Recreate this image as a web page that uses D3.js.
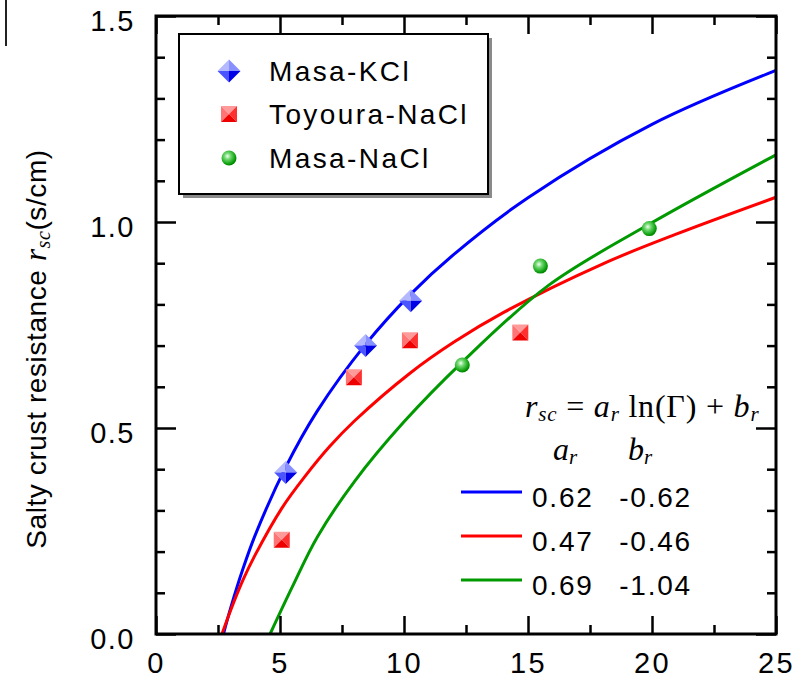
<!DOCTYPE html>
<html>
<head>
<meta charset="utf-8">
<script src="https://cdn.jsdelivr.net/npm/d3@7"></script>
<style>
  body { margin: 0; background: #fff; }
  svg { display: block; font-family: "Liberation Sans", Arial, sans-serif; }
  .tick text { font-size: 29px; fill: #000; letter-spacing: 2.5px; }
</style>
</head>
<body>
<svg id="chart" width="808" height="684"></svg>
<script>
// measured points (Gamma, r_sc)
var kclX = [5.23, 8.45, 10.27];
var kclY = [0.392, 0.700, 0.809];
var toyoX = [5.07, 7.98, 10.24, 14.69];
var toyoY = [0.229, 0.623, 0.713, 0.732];
var nacX = [12.35, 15.5, 19.89];
var nacY = [0.653, 0.893, 0.984];

// fitted curves
var kclFitX = [2.72, 3, 3.5, 4, 5.23, 6.5, 8.45, 10.27, 12, 15, 20, 25];
var kclFitY = [0, 0.061, 0.157, 0.240, 0.405, 0.541, 0.703, 0.825, 0.921, 1.059, 1.237, 1.368];
var toyoFitX = [2.66, 3, 3.5, 4, 5.07, 6, 7, 8, 10.24, 12, 14, 18, 21, 25];
var toyoFitY = [0, 0.056, 0.130, 0.192, 0.305, 0.382, 0.455, 0.517, 0.633, 0.708, 0.780, 0.898, 0.971, 1.060];
var nacFitX = [4.6, 5.5, 6.5, 8, 10, 12.35, 15.8, 19.9, 25];
var nacFitY = [0, 0.115, 0.235, 0.370, 0.515, 0.660, 0.845, 0.995, 1.163];

var seriesNames = ["Masa-KCl", "Toyoura-NaCl", "Masa-NaCl"];
var fitALabels = ["0.62", "0.47", "0.69"];
var fitBLabels = ["-0.62", "-0.46", "-1.04"];
var colors = ["#0000ff", "#ff0000", "#009900"];

var xMajor = [0, 5, 10, 15, 20, 25];
var xMinor = [2.5, 7.5, 12.5, 17.5, 22.5];
var yMajor = [0, 0.5, 1.0, 1.5];
var yMinor = [0.1, 0.2, 0.3, 0.4, 0.6, 0.7, 0.8, 0.9, 1.1, 1.2, 1.3, 1.4];

var pL = 156, pR = 776, pT = 16, pB = 634;

var svg = d3.select("#chart");

var x = d3.scaleLinear().domain([0, 25]).range([pL, pR]);
var y = d3.scaleLinear().domain([0, 1.5]).range([pB, pT]);

// artifact line at top-left corner
svg.append("line")
  .attr("x1", 6).attr("x2", 6).attr("y1", 0).attr("y2", 46)
  .attr("stroke", "#222").attr("stroke-width", 2);

// fitted curves
var line = d3.line()
  .x(function(d) { return x(d[0]); })
  .y(function(d) { return y(d[1]); })
  .curve(d3.curveCatmullRom.alpha(0.5));

var fits = [[kclFitX, kclFitY], [toyoFitX, toyoFitY], [nacFitX, nacFitY]];
fits.forEach(function(f, i) {
  var pts = f[0].map(function(v, j) { return [v, f[1][j]]; });
  svg.append("path")
    .attr("d", line(pts))
    .attr("fill", "none")
    .attr("stroke", colors[i])
    .attr("stroke-width", 3);
});

// axes
function styleAxis(g) {
  g.select(".domain").remove();
  g.selectAll(".tick line").attr("stroke", "#000").attr("stroke-width", 2.5);
}

svg.append("g")
  .attr("transform", "translate(0," + pB + ")")
  .call(d3.axisBottom(x).tickValues(xMajor).tickSizeInner(-18).tickSizeOuter(0)
    .tickPadding(18).tickFormat(d3.format("d")))
  .call(styleAxis);
svg.append("g")
  .attr("transform", "translate(0," + pB + ")")
  .call(d3.axisBottom(x).tickValues(xMinor).tickSizeInner(-9).tickSizeOuter(0).tickFormat(""))
  .call(styleAxis);
svg.append("g")
  .attr("transform", "translate(0," + pT + ")")
  .call(d3.axisTop(x).tickValues(xMajor).tickSizeInner(-18).tickSizeOuter(0).tickFormat(""))
  .call(styleAxis);
svg.append("g")
  .attr("transform", "translate(0," + pT + ")")
  .call(d3.axisTop(x).tickValues(xMinor).tickSizeInner(-9).tickSizeOuter(0).tickFormat(""))
  .call(styleAxis);

var yl = svg.append("g")
  .attr("transform", "translate(" + pL + ",0)")
  .call(d3.axisLeft(y).tickValues(yMajor).tickSizeInner(-20).tickSizeOuter(0)
    .tickPadding(21).tickFormat(d3.format(".1f")))
  .call(styleAxis);
yl.selectAll(".tick text").attr("dy", "0.5em").style("letter-spacing", "1.5px");
svg.append("g")
  .attr("transform", "translate(" + pL + ",0)")
  .call(d3.axisLeft(y).tickValues(yMinor).tickSizeInner(-9).tickSizeOuter(0).tickFormat(""))
  .call(styleAxis);
svg.append("g")
  .attr("transform", "translate(" + pR + ",0)")
  .call(d3.axisRight(y).tickValues(yMajor).tickSizeInner(-20).tickSizeOuter(0).tickFormat(""))
  .call(styleAxis);
svg.append("g")
  .attr("transform", "translate(" + pR + ",0)")
  .call(d3.axisRight(y).tickValues(yMinor).tickSizeInner(-9).tickSizeOuter(0).tickFormat(""))
  .call(styleAxis);

// frame
svg.append("rect")
  .attr("x", pL).attr("y", pT)
  .attr("width", pR - pL).attr("height", pB - pT)
  .attr("fill", "none").attr("stroke", "#000").attr("stroke-width", 3);

// markers
var defs = svg.append("defs");
var rg = defs.append("radialGradient").attr("id", "ball")
  .attr("cx", "0.4").attr("cy", "0.38").attr("r", "0.6");
rg.append("stop").attr("offset", "0").attr("stop-color", "#f0fff0");
rg.append("stop").attr("offset", "0.35").attr("stop-color", "#70d870");
rg.append("stop").attr("offset", "0.8").attr("stop-color", "#18a818");
rg.append("stop").attr("offset", "1").attr("stop-color", "#008800");

function diamond(g, cx, cy) {
  var s = 11.5;
  var faces = [
    [[0, 0], [-s, 0], [0, -s], "#b4b8ff"],
    [[0, 0], [0, -s], [s, 0], "#8890ff"],
    [[0, 0], [-s, 0], [0, s], "#4a55ff"],
    [[0, 0], [0, s], [s, 0], "#0000e6"]
  ];
  faces.forEach(function(f) {
    g.append("path")
      .attr("d", "M" + (cx + f[0][0]) + "," + (cy + f[0][1]) + "L" + (cx + f[1][0]) + "," + (cy + f[1][1]) +
        "L" + (cx + f[2][0]) + "," + (cy + f[2][1]) + "Z")
      .attr("fill", f[3]);
  });
}
function square(g, cx, cy) {
  var s = 8;
  var faces = [
    [[-s, -s], [s, -s], "#ff9a9a"],
    [[-s, -s], [-s, s], "#ff7575"],
    [[s, -s], [s, s], "#ff3030"],
    [[-s, s], [s, s], "#ee0000"]
  ];
  faces.forEach(function(f) {
    g.append("path")
      .attr("d", "M" + cx + "," + cy + "L" + (cx + f[0][0]) + "," + (cy + f[0][1]) +
        "L" + (cx + f[1][0]) + "," + (cy + f[1][1]) + "Z")
      .attr("fill", f[2]);
  });
}
function ball(g, cx, cy) {
  g.append("circle").attr("cx", cx).attr("cy", cy).attr("r", 7.5)
    .attr("fill", "url(#ball)");
}

var markG = svg.append("g");
kclX.forEach(function(v, i) { diamond(markG, x(v), y(kclY[i])); });
toyoX.forEach(function(v, i) { square(markG, x(v), y(toyoY[i])); });
nacX.forEach(function(v, i) { ball(markG, x(v), y(nacY[i])); });

// legend box
svg.append("rect")
  .attr("x", 183).attr("y", 38).attr("width", 309).attr("height", 160)
  .attr("fill", "#8a8a8a");
svg.append("rect")
  .attr("x", 179).attr("y", 34).attr("width", 309).attr("height", 160)
  .attr("fill", "#fff").attr("stroke", "#000").attr("stroke-width", 2);

var legY = [71, 114, 158];
var drawers = [diamond, square, ball];
seriesNames.forEach(function(n, i) {
  drawers[i](svg, 229, legY[i]);
  svg.append("text")
    .attr("x", 269).attr("y", legY[i] + 10)
    .attr("font-size", 28)
    .attr("letter-spacing", 2.4)
    .text(n);
});

// equation
var serif = "'Liberation Serif', 'Times New Roman', serif";
var eq = svg.append("text")
  .attr("x", 525).attr("y", 417)
  .attr("font-family", serif)
  .attr("font-size", 32)
  .attr("letter-spacing", 0.8);
eq.append("tspan").attr("font-style", "italic").text("r");
eq.append("tspan").attr("font-style", "italic").attr("font-size", 21).attr("dy", 4).text("sc");
eq.append("tspan").attr("dy", -4).text(" = ");
eq.append("tspan").attr("font-style", "italic").text("a");
eq.append("tspan").attr("font-style", "italic").attr("font-size", 21).attr("dy", 4).text("r");
eq.append("tspan").attr("dy", -4).text(" ln(\u0393) + ");
eq.append("tspan").attr("font-style", "italic").text("b");
eq.append("tspan").attr("font-style", "italic").attr("font-size", 21).attr("dy", 4).text("r");

var hdr = [["a", 553], ["b", 628]];
hdr.forEach(function(h) {
  var t = svg.append("text")
    .attr("x", h[1]).attr("y", 460)
    .attr("font-family", serif)
    .attr("font-size", 32);
  t.append("tspan").attr("font-style", "italic").text(h[0]);
  t.append("tspan").attr("font-style", "italic").attr("font-size", 21).attr("dy", 4).text("r");
});

var rowY = [492, 536, 580];
fitALabels.forEach(function(a, i) {
  svg.append("line")
    .attr("x1", 461).attr("x2", 522)
    .attr("y1", rowY[i]).attr("y2", rowY[i])
    .attr("stroke", colors[i]).attr("stroke-width", 3);
  svg.append("text")
    .attr("x", 532).attr("y", rowY[i] + 15)
    .attr("font-size", 28).attr("letter-spacing", 1.8)
    .text(a);
  svg.append("text")
    .attr("x", 692).attr("y", rowY[i] + 15)
    .attr("font-size", 28).attr("letter-spacing", 1.8)
    .attr("text-anchor", "end")
    .text(fitBLabels[i]);
});

// y axis title
var yt = svg.append("text")
  .attr("transform", "translate(46,349) rotate(-90)")
  .attr("text-anchor", "middle")
  .attr("font-size", 28)
  .attr("letter-spacing", 0.6);
yt.append("tspan").text("Salty crust resistance  ");
yt.append("tspan").attr("font-family", serif)
  .attr("font-style", "italic").attr("font-size", 31).text("r");
yt.append("tspan").attr("font-family", serif)
  .attr("font-style", "italic").attr("font-size", 20).attr("dy", 4).text("sc");
yt.append("tspan").attr("dy", -4).text("(s/cm)");
</script>
</body>
</html>
